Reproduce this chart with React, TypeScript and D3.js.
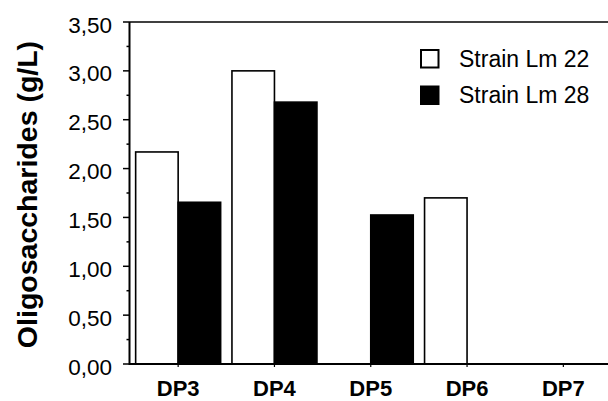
import React from 'react';
import * as d3 from 'd3';

// data
const categories = ['DP3', 'DP4', 'DP5', 'DP6', 'DP7'];
const seriesNames = ['Strain Lm 22', 'Strain Lm 28'];
const lm22 = [2.17, 3.0, 0, 1.7, 0];
const lm28 = [1.655, 2.68, 1.525, 0, 0];
const yTicks = [0, 0.5, 1, 1.5, 2, 2.5, 3, 3.5];
const yMinorTicks = [0.25, 0.75, 1.25, 1.75, 2.25, 2.75, 3.25];

const W = 608;
const H = 401;
const font = '"Liberation Sans", Arial, sans-serif';

const App = () => {
  const left = 130;
  const top = 22;
  const bottom = 364;

  const x = d3.scaleBand().domain(categories).range([left, 611.5]).padding(0);
  const xs = d3.scaleBand().domain(seriesNames).range([0, x.bandwidth()])
    .paddingInner(0).paddingOuter(0.133);
  const y = d3.scaleLinear().domain([0, 3.5]).range([bottom, top]);

  const fmt = (v) => d3.format('.2f')(v).replace('.', ',');
  const series = [
    { name: seriesNames[0], values: lm22, fill: '#ffffff' },
    { name: seriesNames[1], values: lm28, fill: '#000000' },
  ];

  return (
    <svg width={W} height={H} style={{ position: 'absolute', left: 0, top: 0, background: '#fff' }}
      fontFamily={font}>
      {/* bars */}
      {series.map(s => s.values.map((v, i) => v > 0 && (
        <rect key={s.name + i}
          x={x(categories[i]) + xs(s.name)}
          y={y(v)}
          width={xs.bandwidth()}
          height={bottom - y(v)}
          fill={s.fill}
          stroke="#000"
          strokeWidth={1.6} />
      )))}

      {/* frame lines */}
      <line x1={left} x2={W} y1={top} y2={top} stroke="#000" strokeWidth={1.6} />
      <line x1={left - 1} x2={W} y1={bottom} y2={bottom} stroke="#000" strokeWidth={2} />
      <line x1={left - 0.5} x2={left - 0.5} y1={top} y2={bottom + 1} stroke="#000" strokeWidth={2} />

      {/* y ticks */}
      {yTicks.map(t => (
        <g key={t}>
          <line x1={left - 7} x2={left} y1={y(t)} y2={y(t)} stroke="#000" strokeWidth={1.5} />
          <text x={112} y={y(t) + 10.5} textAnchor="end" fontSize={22.5}>{fmt(t)}</text>
        </g>
      ))}
      {yMinorTicks.map(t => (
        <line key={t} x1={left - 3.5} x2={left} y1={y(t)} y2={y(t)} stroke="#000" strokeWidth={1.5} />
      ))}

      {/* x ticks + labels */}
      {categories.map(c => {
        const cx = x(c) + x.bandwidth() / 2;
        return (
          <g key={c}>
            <line x1={cx} x2={cx} y1={bottom} y2={bottom + 3} stroke="#000" strokeWidth={1.2} />
            <text x={cx} y={396} textAnchor="middle" fontSize={22} fontWeight="bold">{c}</text>
          </g>
        );
      })}

      {/* y title */}
      <text transform={`translate(36.5, ${(40 + 349) / 2}) rotate(-90)`} textAnchor="middle"
        fontSize={28.5} fontWeight="bold">Oligosaccharides (g/L)</text>

      {/* legend */}
      {series.map((s, i) => (
        <g key={s.name} transform={`translate(421, ${50 + i * 36.5})`}>
          <rect x={0} y={0} width={17.5} height={17.5} fill={s.fill} stroke="#000" strokeWidth={2} />
          <text x={38} y={16.5} fontSize={23}>{s.name}</text>
        </g>
      ))}
    </svg>
  );
};

export default App;
